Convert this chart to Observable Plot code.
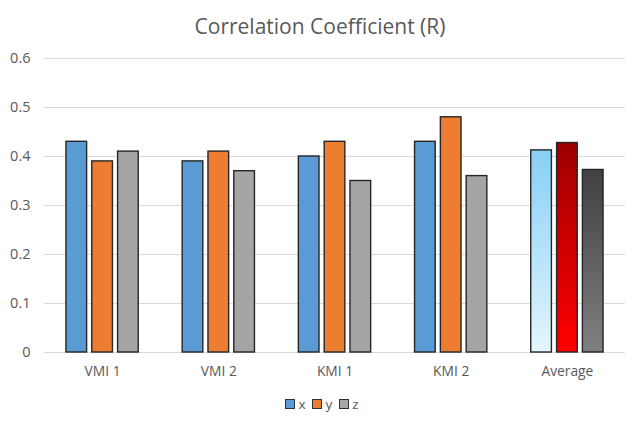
<!DOCTYPE html>
<html><head><meta charset="utf-8">
<script src="https://cdn.jsdelivr.net/npm/d3@7"></script>
<script src="https://cdn.jsdelivr.net/npm/@observablehq/plot@0.6"></script>
<style>
body{margin:0;background:#fff;font-family:"Open Sans",sans-serif;width:640px;height:426px;overflow:hidden;}
#title{height:45px;display:flex;align-items:center;justify-content:center;padding-top:7px;box-sizing:border-box;font-size:21px;color:#595959;}
#chart svg{display:block;}
#legend{display:flex;justify-content:center;align-items:center;gap:7px;height:28px;font-size:13.5px;color:#595959;padding-left:4px;}
.item{display:flex;align-items:center;gap:3px;}
.sw{width:8px;height:8px;border:1px solid #333;}
</style></head>
<body>
<div id="title">Correlation Coefficient (R)</div>
<div id="chart"></div>
<div id="legend"></div>
<script>
const groups = ["VMI 1", "VMI 2", "KMI 1", "KMI 2", "Average"];
const series = ["x", "y", "z"];
const xValues = [0.43, 0.39, 0.40, 0.43, 0.4125];
const yValues = [0.39, 0.41, 0.43, 0.48, 0.4275];
const zValues = [0.41, 0.37, 0.35, 0.36, 0.3725];
const yTicks = [0, 0.1, 0.2, 0.3, 0.4, 0.5, 0.6];
const seriesColors = ["#5B9BD5", "#ED7D31", "#A5A5A5"];
const averageFills = ["url(#gx)", "url(#gy)", "url(#gz)"];

const valuesBySeries = [xValues, yValues, zValues];
const rows = [];
groups.forEach((g, gi) => {
  series.forEach((s, si) => {
    rows.push({
      group: g,
      series: s,
      value: valuesBySeries[si][gi],
      fill: g === "Average" ? averageFills[si] : seriesColors[si]
    });
  });
});

const svg = Plot.plot({
  width: 640,
  height: 345,
  marginLeft: 44,
  marginRight: 15,
  marginTop: 13,
  marginBottom: 38,
  style: {fontFamily: "'Open Sans', sans-serif", fontSize: "13px", color: "#595959", background: "#fff"},
  fx: {domain: groups, padding: 0, round: false, label: null, axis: null},
  x: {domain: series, paddingInner: 0.2, paddingOuter: 0.85, round: false, axis: null},
  y: {domain: [0, 0.6], axis: null},
  color: {type: "identity"},
  marks: [
    Plot.ruleY(yTicks, {stroke: "#D9D9D9", strokeWidth: 1}),
    Plot.axisY({ticks: yTicks, tickFormat: d => String(d), tickSize: 0, tickPadding: 14, label: null, fill: "#595959", fontSize: 14.5}),
    Plot.barY(rows, {fx: "group", x: "series", y: "value", fill: "fill", stroke: "#262626", strokeWidth: 1.4}),
    Plot.axisFx({anchor: "bottom", tickSize: 0, tickPadding: 14, label: null, fill: "#595959", fontSize: 13.8})
  ]
});

const defs = d3.select(svg).insert("defs", ":first-child");
function grad(id, top, bottom) {
  const g = defs.append("linearGradient").attr("id", id)
    .attr("x1", 0).attr("y1", 0).attr("x2", 0).attr("y2", 1);
  g.append("stop").attr("offset", "0%").attr("stop-color", top);
  g.append("stop").attr("offset", "100%").attr("stop-color", bottom);
}
grad("gx", "#88CFF5", "#E4F6FF");
grad("gy", "#9E0000", "#FF0000");
grad("gz", "#404040", "#808080");

document.getElementById("chart").appendChild(svg);

const legend = document.getElementById("legend");
series.forEach((s, i) => {
  const item = document.createElement("div");
  item.className = "item";
  const sw = document.createElement("span");
  sw.className = "sw";
  sw.style.background = seriesColors[i];
  const lab = document.createElement("span");
  lab.textContent = s;
  item.appendChild(sw);
  item.appendChild(lab);
  legend.appendChild(item);
});
</script>
</body></html>
